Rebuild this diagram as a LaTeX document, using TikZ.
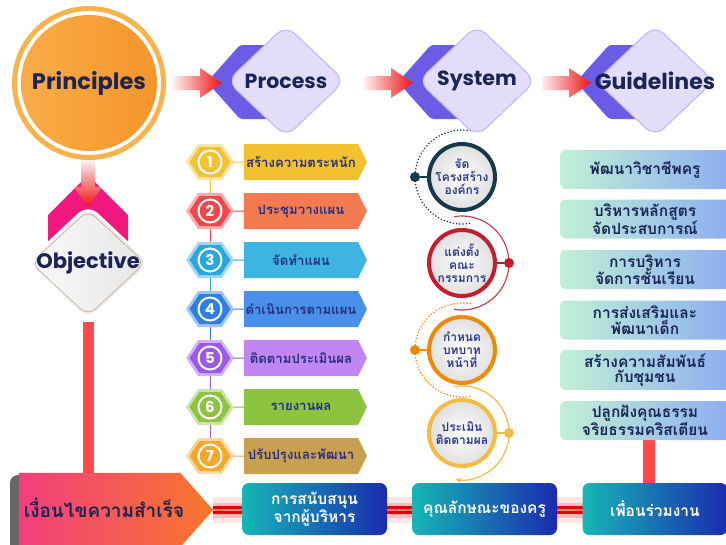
\documentclass[tikz,border=0pt]{standalone}
\usepackage{fontspec}
\setmainfont{Poppins}
\newfontfamily\thaifont[Script=Thai]{Loma}
\usetikzlibrary{shapes.geometric,shapes.symbols,calc,arrows.meta}
\pgfdeclarelayer{bg}
\pgfsetlayers{bg,main}
\definecolor{navy}{HTML}{1B2456}
\definecolor{tnavy}{HTML}{27307F}
\definecolor{sysblue}{HTML}{2B3990}
\definecolor{ringO}{HTML}{F7B44C}
\definecolor{discA}{HTML}{F9AC48}
\definecolor{discB}{HTML}{F5952A}
\definecolor{lav}{HTML}{E4DDFA}
\definecolor{lavb}{HTML}{C7BAF0}
\definecolor{chev}{HTML}{6B5CE6}
\definecolor{pinkc}{HTML}{F0177E}
\definecolor{lred}{HTML}{FF4848}
\definecolor{arrred}{HTML}{F01010}
\definecolor{tanb}{HTML}{C9AE92}
\definecolor{kpink}{HTML}{F23E7F}
\definecolor{korange}{HTML}{F8772A}
\definecolor{tealc}{HTML}{16B6B6}
\definecolor{dblue}{HTML}{1A2BAE}
\definecolor{mint}{HTML}{C0F0D6}
\definecolor{lblue}{HTML}{8CAEF0}
\definecolor{hA}{HTML}{F2C232}\definecolor{bA}{HTML}{F2C12E}
\definecolor{hB}{HTML}{F0474A}\definecolor{bB}{HTML}{F47B4F}
\definecolor{hC}{HTML}{2AA6E0}\definecolor{bC}{HTML}{3DB5E0}
\definecolor{hD}{HTML}{2F7FE0}\definecolor{bD}{HTML}{4A8FEA}
\definecolor{hE}{HTML}{9B59E8}\definecolor{bE}{HTML}{C286F2}
\definecolor{hF}{HTML}{8CC43F}\definecolor{bF}{HTML}{8CC43F}
\definecolor{hG}{HTML}{F5A72E}\definecolor{bG}{HTML}{C9A050}
\definecolor{sA}{HTML}{173849}
\definecolor{sB}{HTML}{C41E2E}
\definecolor{sC}{HTML}{EF8A05}
\definecolor{sD}{HTML}{F2BB45}
\tikzset{
  bigdia/.style={diamond, minimum width=118pt, minimum height=112pt, inner sep=0pt, rounded corners=12pt, fill=lav, draw=lavb, line width=1.2pt},
  headtxt/.style={font=\bfseries\fontsize{#1}{#1}\selectfont, text=navy, inner sep=0pt},
  harr/.pic={\path[left color=arrred!6, right color=arrred] (-49,-7) -- (-22,-7) -- (-22,-15) -- (0,0) -- (-22,15) -- (-22,7) -- (-49,7) -- cycle;},
  varr/.pic={\path[top color=arrred!6, bottom color=arrred] (-7,-47) -- (-7,-20) -- (-14,-20) -- (0,0) -- (14,-20) -- (7,-20) -- (7,-47) -- cycle;},
  stepban/.style={signal, signal to=east, signal pointer angle=127, minimum width=123pt, minimum height=36pt, inner sep=0pt, font=\thaifont\bfseries\fontsize{13.2}{14}\selectfont, text=tnavy},
  numdisk/.style={circle, draw=white, line width=2pt, minimum size=23pt, inner sep=0pt, text=white, font=\bfseries\fontsize{15}{15}\selectfont},
  syscirc/.style={circle, draw=#1, line width=4pt, minimum size=66pt, inner sep=0pt, inner color=white, outer color=gray!25, align=center, font=\thaifont\bfseries\fontsize{12}{13}\selectfont, text=sysblue},
  sysdot/.style={circle, fill=#1, minimum size=10pt, inner sep=0pt},
  guide/.style={rectangle, rounded corners=5pt, minimum width=170pt, minimum height=39pt, left color=mint, right color=lblue, align=center, font=\thaifont\bfseries\fontsize{15.5}{15.5}\selectfont, text=navy},
  cond/.style={rectangle, rounded corners=7pt, minimum width=145pt, minimum height=52pt, left color=tealc, right color=dblue, align=center, text=white, font=\thaifont\bfseries\fontsize{15.5}{17.5}\selectfont},
}
\newcommand\pstep[6]{%
  \begin{scope}[shift={(210,#2)}]
    \fill[#3!45!white] (-24,0) -- (-12,-18) -- (12,-18) -- (24,0) -- (12,18) -- (-12,18) -- cycle;
    \fill[#3] (-20.5,0) -- (-10.5,-15) -- (10.5,-15) -- (20.5,0) -- (10.5,15) -- (-10.5,15) -- cycle;
  \end{scope}
  \node[numdisk, fill=#3] (n#1) at (210,#2) {#5};
  \node[stepban, fill=#4] (b#1) at (301,#2) {#6};
}
\begin{document}
\begin{tikzpicture}[x=1pt,y=-1pt]
\useasboundingbox (0,0) rectangle (726,544);

% Principles
\node[circle, draw=ringO, line width=5pt, minimum size=149pt, inner sep=0pt] (prring) at (89,83) {};
\node[circle, minimum size=136pt, inner sep=0pt, left color=discA, right color=discB] (pr) at (89,83) {};
\node[headtxt=22.5] (prt) at (pr) {Principles};

% top diamonds
\coordinate (pc) at (286,81);
\coordinate (sc) at (477,81);
\coordinate (gc) at (655,81);
\foreach \c in {pc,sc,gc}{
  \fill[chev, rounded corners=3pt] ($(\c)+(-79,1)$) -- ($(\c)+(-46,-36)$) -- ($(\c)+(-6,-36)$) -- ($(\c)+(-6,38)$) -- ($(\c)+(-46,38)$) -- cycle;
}
\node[bigdia] (proc) at (pc) {};
\node[bigdia] (sys) at (sc) {};
\node[bigdia] (gui) at (gc) {};
\node[headtxt=20.5] (proct) at (proc) {Process};
\node[headtxt=20.5] (syst) at (sys) {System};
\node[headtxt=22] (guit) at (gui) {Guidelines};
\pic at ($(proc.center)+(-64,2)$) {harr};
\pic at ($(sys.center)+(-64,2)$) {harr};
\pic at ($(gui.center)+(-64,2)$) {harr};

% Objective
\coordinate (oc) at (88,263);
\fill[pinkc] ($(oc)+(0,-88)$) -- ($(oc)+(40,-48)$) -- ($(oc)+(40,-13)$) -- ($(oc)+(-40,-13)$) -- ($(oc)+(-40,-48)$) -- cycle;
\pic at ($(oc)+(0,-56)$) {varr};
\node[diamond, minimum width=124pt, minimum height=116pt, inner sep=0pt, rounded corners=12pt, left color=gray!4, right color=gray!20, draw=white, line width=2pt] (ob) at (oc) {};
\node[diamond, minimum width=114pt, minimum height=106pt, inner sep=0pt, rounded corners=10pt, draw=tanb, line width=0.7pt] (obin) at (oc) {};
\node[headtxt=21] (obt) at (oc) {Objective};

% Process steps
\pstep{1}{162}{hA}{bA}{1}{สร้างความตระหนัก}
\pstep{2}{211}{hB}{bB}{2}{ประชุมวางแผน}
\pstep{3}{260}{hC}{bC}{3}{จัดทำแผน}
\pstep{4}{309}{hD}{bD}{4}{ดำเนินการตามแผน}
\pstep{5}{358}{hE}{bE}{5}{ติดตามประเมินผล}
\pstep{6}{407}{hF}{bF}{6}{รายงานผล}
\pstep{7}{456}{hG}{bG}{7}{ปรับปรุงและพัฒนา}

% System circles
\node[syscirc=sA] (s1) at (462,177) {จัด\\โครงสร้าง\\องค์กร};
\node[syscirc=sB] (s2) at (462,263) {แต่งตั้ง\\คณะ\\กรรมการ};
\node[syscirc=sC] (s3) at (462,350) {กำหนด\\บทบาท\\หน้าที่};
\node[syscirc=sD] (s4) at (462,433) {ประเมิน\\ติดตามผล};
\node[sysdot=sA] (d1) at (415,177) {};
\node[sysdot=sB] (d2) at (509,263) {};
\node[sysdot=sC] (d3) at (415,350) {};
\node[sysdot=sD] (d4) at (509,433) {};

% Guidelines boxes
\node[guide] (g1) at (645,169.5) {พัฒนาวิชาชีพครู};
\node[guide] (g2) at (645,219) {บริหารหลักสูตร\\จัดประสบการณ์};
\node[guide] (g3) at (645,269.5) {การบริหาร\\จัดการชั้นเรียน};
\node[guide] (g4) at (645,320) {การส่งเสริมและ\\พัฒนาเด็ก};
\node[guide] (g5) at (645,370) {สร้างความสัมพันธ์\\กับชุมชน};
\node[guide] (g6) at (645,420.5) {ปลูกฝังคุณธรรม\\จริยธรรมคริสเตียน};

% bottom row
\fill[gray!80!black, rounded corners=8pt] (10,475) rectangle (28,552);
\node[minimum width=194pt, minimum height=74pt, inner sep=0pt] (k) at (116,510) {};
\path[left color=kpink, right color=korange] (k.north west) -- ($(k.north east)+(-33,0)$) -- (k.east) -- ($(k.south east)+(-33,0)$) -- (k.south west) -- cycle;
\node[font=\thaifont\bfseries\fontsize{19}{19}\selectfont, text=navy, inner sep=0pt] (kt) at (104,508) {เงื่อนไขความสำเร็จ};
\node[cond] (c1) at (314.5,509) {การสนับสนุน\\จากผู้บริหาร};
\node[cond] (c2) at (484.5,509) {คุณลักษณะของครู};
\node[cond] (c3) at (655,509) {เพื่อนร่วมงาน};

\begin{pgfonlayer}{bg}
  \fill[white] (0,0) rectangle (726,544);
  \draw[hA, line width=1pt] (n1) -- (n2);
  \draw[hB, line width=1pt] (n2) -- (n3);
  \draw[hC, line width=1pt] (n3) -- (n4);
  \draw[hD, line width=1pt] (n4) -- (n5);
  \draw[hE, line width=1pt] (n5) -- (n6);
  \draw[hE, line width=1pt] (n6) -- (n7);
  \draw[hA, line width=1pt] (n1) -- (b1);
  \draw[hB, line width=1pt] (n2) -- (b2);
  \draw[hC, line width=1pt] (n3) -- (b3);
  \draw[hD, line width=1pt] (n4) -- (b4);
  \draw[hE, line width=1pt] (n5) -- (b5);
  \draw[hF, line width=1pt] (n6) -- (b6);
  \draw[hG, line width=1pt] (n7) -- (b7);
  \draw[lred, line width=11pt] (ob.south) -- (ob.south |- k.north);
  \draw[red, opacity=.10, line width=26pt] (k.east) -- (726,510);
  \draw[red, opacity=.18, line width=15pt] (k.east) -- (726,510);
  \draw[red!90!black, line width=8pt] (k.east) -- (726,510);
  \draw[red!55!white, line width=2pt] (k.east) -- (726,510);
  \draw[lred, line width=12pt] ($(g6.south)+(4,0)$) -- ($(c3.north)+(-6,0)$);
  % system arcs
  \draw[sA, line width=1.8pt] (d1) -- (s1);
  \draw[sB, line width=1.8pt] (d2) -- (s2);
  \draw[sC, line width=1.8pt] (d3) -- (s3);
  \draw[sD, line width=1.8pt] (d4) -- (s4);
  \draw[sA, line width=1.7pt, line cap=round, dash pattern=on 0pt off 3.2pt] ($(s1)+(-80:47)$) arc[start angle=-80, end angle=-280, radius=47];
  \draw[sB!85, line width=1.2pt] ($(s2)+(-100:47)$) arc[start angle=-100, end angle=100, radius=47];
  \draw[sC, line width=1.7pt, line cap=round, dash pattern=on 0pt off 3.2pt] ($(s3)+(-80:47)$) arc[start angle=-80, end angle=-280, radius=47];
  \draw[sD, line width=1.2pt, -{Stealth[length=6pt,width=5pt]}] ($(s4)+(-100:47)$) arc[start angle=-100, end angle=98, radius=47];
\end{pgfonlayer}
\end{tikzpicture}
\end{document}
